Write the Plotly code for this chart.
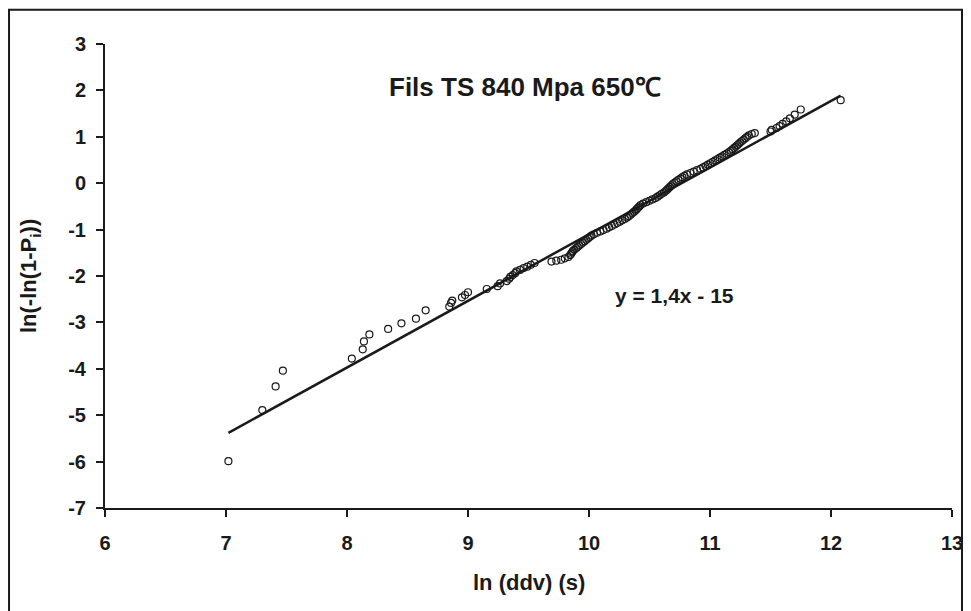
import plotly.graph_objects as go

# ---- data ----
ln_ddv = [
    7.02, 7.30, 7.41, 7.47, 8.04, 8.13, 8.14, 8.185, 8.34, 8.45, 8.57, 8.65,
    8.845, 8.86, 8.87, 8.95, 8.975, 9.00, 9.155, 9.245, 9.265,
    9.32, 9.34, 9.35, 9.37, 9.39, 9.40, 9.43, 9.46, 9.49, 9.52, 9.55,
    9.69, 9.73, 9.77, 9.80, 9.83,
    9.845, 9.852, 9.86, 9.867, 9.88, 9.894, 9.907, 9.92, 9.935,
    9.95, 9.964, 9.978, 9.992, 10.006, 10.02, 10.04, 10.066, 10.094, 10.12,
    10.145, 10.167, 10.189, 10.211, 10.233, 10.254, 10.275, 10.296,
    10.315, 10.329, 10.343, 10.357, 10.371, 10.384, 10.394, 10.405, 10.416, 10.426,
    10.447, 10.473, 10.499, 10.524, 10.55, 10.567, 10.584, 10.601, 10.619,
    10.634, 10.646, 10.657, 10.669, 10.681, 10.692,
    10.706, 10.722, 10.739, 10.756, 10.772, 10.789,
    10.809, 10.837, 10.865, 10.893, 10.921,
    10.943, 10.963, 10.983, 11.003, 11.023,
    11.043, 11.062, 11.081, 11.10, 11.119, 11.138, 11.157,
    11.174, 11.187, 11.20, 11.213, 11.226, 11.239, 11.251,
    11.265, 11.279, 11.293, 11.307, 11.321, 11.345, 11.37,
    11.50, 11.51, 11.55, 11.575, 11.60, 11.63, 11.66, 11.70, 11.75, 12.08,
]
weibull_y = [
    -5.99, -4.89, -4.38, -4.04, -3.78, -3.58, -3.41, -3.26, -3.14, -3.02, -2.92, -2.74,
    -2.66, -2.58, -2.53, -2.46, -2.41, -2.35, -2.28, -2.22, -2.16,
    -2.11, -2.06, -2.02, -1.98, -1.94, -1.90, -1.87, -1.83, -1.80, -1.76, -1.72,
    -1.69, -1.67, -1.65, -1.62, -1.59,
    -1.55, -1.52, -1.49, -1.46, -1.43, -1.40, -1.37, -1.34, -1.31,
    -1.28, -1.25, -1.22, -1.19, -1.16, -1.13, -1.10, -1.07, -1.04, -1.01,
    -0.98, -0.95, -0.92, -0.89, -0.86, -0.83, -0.80, -0.77,
    -0.74, -0.71, -0.68, -0.65, -0.62, -0.59, -0.56, -0.53, -0.50, -0.47,
    -0.44, -0.41, -0.38, -0.35, -0.32, -0.29, -0.26, -0.23, -0.20,
    -0.17, -0.14, -0.11, -0.08, -0.05, -0.02,
    0.01, 0.04, 0.07, 0.10, 0.13, 0.16,
    0.19, 0.22, 0.25, 0.28, 0.31,
    0.34, 0.37, 0.40, 0.43, 0.46,
    0.49, 0.52, 0.55, 0.58, 0.61, 0.64, 0.67,
    0.70, 0.73, 0.76, 0.79, 0.82, 0.85, 0.88,
    0.91, 0.94, 0.97, 1.00, 1.03, 1.06, 1.08,
    1.114, 1.15, 1.19, 1.231, 1.279, 1.334, 1.398, 1.478, 1.588, 1.79,
]

# linear trend (as drawn in the reference)
trend_x = [7.02, 12.08]
trend_slope = 1.436
trend_intercept = -15.46
trend_y = [trend_slope * v + trend_intercept for v in trend_x]

x_ticks = [6, 7, 8, 9, 10, 11, 12, 13]
y_ticks = [3, 2, 1, 0, -1, -2, -3, -4, -5, -6, -7]

title_text = "Fils TS 840 Mpa 650℃"
equation_text = "y = 1,4x - 15"
x_title = "ln (ddv) (s)"
y_title = "ln(-ln(1-P<sub>i</sub>))"

FONT = "Liberation Sans, Arial, sans-serif"
INK = "#1a1a1a"

fig = go.Figure()
fig.add_trace(go.Scatter(
    x=trend_x, y=trend_y, mode="lines",
    line=dict(color=INK, width=2.5), hoverinfo="skip", showlegend=False,
))
fig.add_trace(go.Scatter(
    x=ln_ddv, y=weibull_y, mode="markers",
    marker=dict(symbol="circle-open", size=7, color=INK, line=dict(width=1.2, color=INK)),
    showlegend=False,
))

fig.add_annotation(x=9.47, y=2.08, text="<b>" + title_text + "</b>", showarrow=False,
                   xanchor="center", yanchor="middle",
                   font=dict(family=FONT, size=26, color=INK))
fig.add_annotation(x=10.71, y=-2.42, text="<b>" + equation_text + "</b>", showarrow=False,
                   xanchor="center", yanchor="middle",
                   font=dict(family=FONT, size=21, color=INK))
# axis titles
fig.add_annotation(xref="paper", yref="paper", x=0.5, y=-0.1616, text="<b>" + x_title + "</b>",
                   xanchor="center", yanchor="middle",
                   showarrow=False, font=dict(family=FONT, size=22, color=INK))
fig.add_annotation(xref="paper", yref="paper", x=-0.0885, y=0.5, text="<b>" + y_title + "</b>",
                   xanchor="center", yanchor="middle",
                   textangle=-90, showarrow=False, font=dict(family=FONT, size=22, color=INK))

# outer frame
fig.add_shape(type="rect", xref="paper", yref="paper",
              x0=-0.1133, x1=1.0118, y0=-0.26, y1=1.0739,
              line=dict(color=INK, width=2), fillcolor="rgba(0,0,0,0)")

axis_common = dict(
    showgrid=False, zeroline=False, showline=True, linecolor=INK, linewidth=2,
    ticks="outside", ticklen=7, tickwidth=2, tickcolor=INK,
    tickfont=dict(family=FONT, size=20, color=INK), automargin=False,
)

fig.update_layout(
    width=971, height=611,
    margin=dict(l=97, r=27, t=36, b=111, autoexpand=False),
    paper_bgcolor="white", plot_bgcolor="white",
    xaxis=dict(range=[6, 13], tickvals=x_ticks, ticktext=[f"<b>{v}</b>" for v in x_ticks],
               ticklabelstandoff=9, **axis_common),
    yaxis=dict(range=[-7, 3], tickvals=y_ticks, ticktext=[f"<b>{v}</b>" for v in y_ticks],
               ticklabelstandoff=6, **axis_common),
)

fig.write_html("out.html")
